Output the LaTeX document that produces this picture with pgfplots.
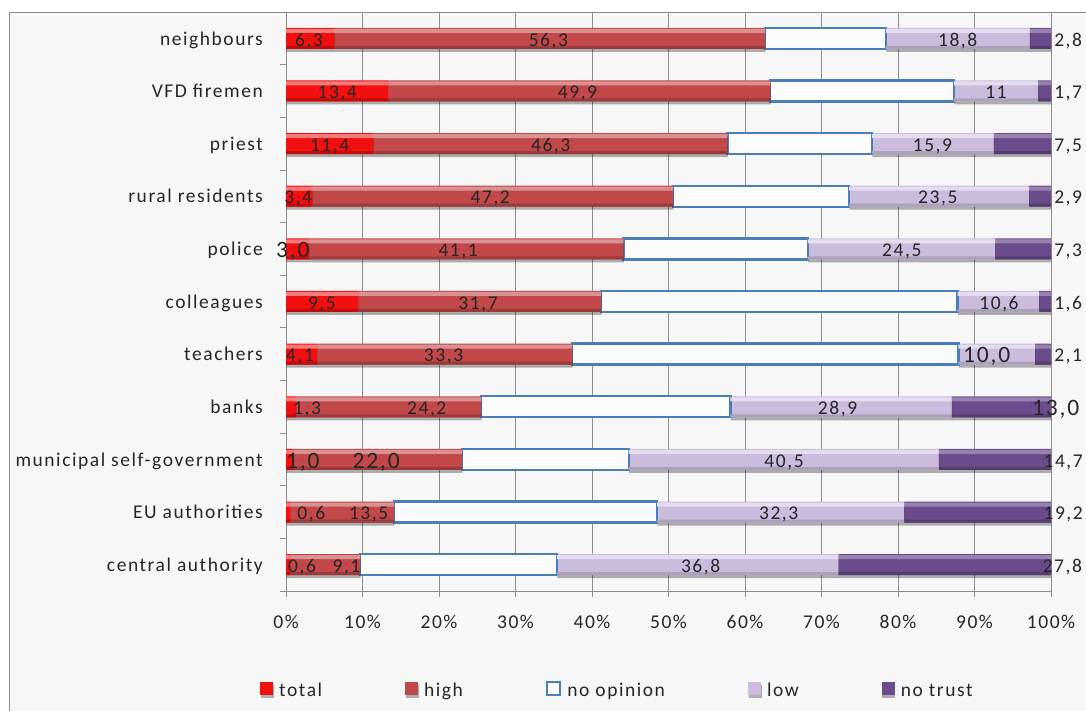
\documentclass[border=0pt]{standalone}
\usepackage{pgfplots}
\pgfplotsset{compat=1.18}
\usepackage{pgfplotstable}
\usepackage{fontspec}
\setmainfont{Carlito}[LetterSpace=8]
\usetikzlibrary{shadows}

\definecolor{cTotal}{HTML}{F20F0F}
\definecolor{cHigh}{HTML}{C24849}
\definecolor{cLow}{HTML}{CBBCDD}
\definecolor{cNoTrust}{HTML}{6A4C8C}
\definecolor{cBlue}{HTML}{4A7EBB}
\definecolor{bg}{HTML}{F7F7F7}
\definecolor{gridgray}{HTML}{8F8F8F}
\definecolor{framegray}{HTML}{8C8C8C}
\definecolor{txt}{HTML}{262626}

\newcommand\lbl{\fontsize{19.5bp}{21bp}\selectfont}
\newcommand\lblbig{\fontsize{23.5bp}{25bp}\selectfont}

% shares of respondents (%), y = category index (0 = bottom)
\pgfplotstableread{
y  total high noop low  notrust
10 6.3   56.3 15.8 18.8 2.8
9  13.4  49.9 24.0 11.0 1.7
8  11.4  46.3 18.9 15.9 7.5
7  3.4   47.2 23.0 23.5 2.9
6  3.0   41.1 24.1 24.5 7.3
5  9.5   31.7 46.6 10.6 1.6
4  4.1   33.3 50.5 10.0 2.1
3  1.3   24.2 32.6 28.9 13.0
2  1.0   22.0 21.8 40.5 14.7
1  0.6   13.5 34.4 32.3 19.2
0  0.6   9.1  25.7 36.8 27.8
}\trust

% value labels placed inside the segments
\pgfplotstableread{
x    y  t
3.0  10 6,3
34.3 10 56,3
87.8 10 18,8
6.7  9  13,4
38.1 9  49,9
92.8 9  11
5.7  8  11,4
34.6 8  46,3
84.5 8  15,9
1.6  7  3,4
26.7 7  47,2
85.2 7  23,5
22.5 6  41,1
80.5 6  24,5
4.7  5  9,5
25.1 5  31,7
93.2 5  10,6
1.8  4  4,1
20.6 4  33,3
2.75 3  1,3
18.4 3  24,2
72.1 3  28,9
65.1 2  40,5
3.3  1  0,6
10.8 1  13,5
64.4 1  32,3
2.1  0  0,6
7.9  0  9,1
54.2 0  36,8
}\labmid

\pgfplotstableread{
x    y  t
0.9  6  3,0
91.6 4  10,0
2.2  2  1,0
11.8 2  22,0
}\labbig

% "no trust" labels beside the bar ends
\pgfplotstableread{
x     y  t
100.4 10 2,8
100.4 9  1,7
100.4 8  7,5
100.4 7  2,9
100.4 6  7,3
100.4 5  1,6
100.4 4  2,1
99.0  2  14,7
99.0  1  19,2
98.9  0  27,8
}\labright

\pgfplotstableread{
x    y  t
97.5 3  13,0
}\labrightbig

\pgfplotsset{
  seg/.style={draw=none, fill=#1,
    drop shadow={shadow xshift=0.5bp, shadow yshift=-3bp, opacity=0.3, fill=black}},
  sqlegend/.style={legend image code/.code={\path[##1] (0bp,-4bp) rectangle (13bp,9bp);}},
  labels/.style={only marks, mark=*, mark size=0.01pt,
    mark options={draw=none, fill=none},
    nodes near coords, point meta=explicit symbolic},
  frame/.style={at={(286bp,120bp)}, anchor=south west,
    width=765bp, height=579bp, scale only axis,
    xmin=0, xmax=100, ymin=-0.5, ymax=10.5},
}

\begin{document}
\begin{tikzpicture}
\useasboundingbox (0,0) rectangle (1086bp,711bp);
\fill[white] (0,0) rectangle (1086bp,711bp);
\fill[bg] (9bp,0) rectangle (1086bp,699bp);
\draw[framegray, line width=0.8bp] (9bp,0) -- (9bp,699bp) -- (1086bp,699bp);

\begin{axis}[
  frame,
  xbar stacked, bar width=21bp,
  axis lines*=left,
  axis line style={-, draw=framegray, line width=0.8bp},
  xtick={0,10,...,100},
  xticklabels={0\%,10\%,20\%,30\%,40\%,50\%,60\%,70\%,80\%,90\%,100\%},
  xmajorgrids,
  grid style={draw=gridgray, line width=0.8bp},
  ytick={-0.5,0.5,...,10.5},
  yticklabels={central authority, EU authorities, municipal self-government,
    banks, teachers, colleagues, police, rural residents, priest,
    VFD firemen, neighbours, {}},
  tick align=outside, major tick length=6bp,
  tick style={draw=framegray, line width=0.8bp},
  yticklabel style={anchor=base east, inner sep=0pt, xshift=-17bp,
    yshift=19.6bp, font=\lbl, text=txt},
  xticklabel style={anchor=base, inner sep=0pt, yshift=-32bp,
    font=\lbl, text=txt},
  legend columns=5,
  legend style={at={(-0.0340,-0.170)}, anchor=west, draw=none, fill=none,
    inner sep=0pt, font=\lbl, text=txt,
    nodes={inner sep=0pt},
    /tikz/every odd column/.append style={column sep=6bp},
    /tikz/every even column/.append style={column sep=83bp}},
]
\addplot[seg=cTotal, sqlegend] table[x=total, y=y] {\trust};
\addplot[seg=cHigh, sqlegend] table[x=high, y=y] {\trust};
\addplot[fill=white!60!bg, draw=cBlue, line width=2.4bp, sqlegend] table[x=noop, y=y] {\trust};
\addplot[seg=cLow, sqlegend] table[x=low, y=y] {\trust};
\addplot[seg=cNoTrust, sqlegend] table[x=notrust, y=y] {\trust};
\legend{total, high, no opinion, low, no trust}
\end{axis}

% bevel: light strip along the top edge of each filled segment
\begin{axis}[frame, hide axis, xbar stacked, bar width=4bp, bar shift=7.5bp]
\addplot[draw=none, fill=cTotal!55!white] table[x=total, y=y] {\trust};
\addplot[draw=none, fill=cHigh!60!white] table[x=high, y=y] {\trust};
\addplot[draw=none, fill=none] table[x=noop, y=y] {\trust};
\addplot[draw=none, fill=cLow!50!white] table[x=low, y=y] {\trust};
\addplot[draw=none, fill=cNoTrust!70!white] table[x=notrust, y=y] {\trust};
\end{axis}

% bevel: darker strip along the bottom edge
\begin{axis}[frame, hide axis, xbar stacked, bar width=3bp, bar shift=-9bp]
\addplot[draw=none, fill=cTotal!80!black] table[x=total, y=y] {\trust};
\addplot[draw=none, fill=cHigh!80!black] table[x=high, y=y] {\trust};
\addplot[draw=none, fill=none] table[x=noop, y=y] {\trust};
\addplot[draw=none, fill=cLow!85!black] table[x=low, y=y] {\trust};
\addplot[draw=none, fill=cNoTrust!80!black] table[x=notrust, y=y] {\trust};
\end{axis}

\begin{axis}[frame, hide axis, clip=false]
\addplot[labels, nodes near coords style={anchor=base, inner sep=0pt,
    yshift=-7.7bp, font=\lbl, text=txt}] table[x=x, y=y, meta=t] {\labmid};
\addplot[labels, nodes near coords style={anchor=base, inner sep=0pt,
    yshift=-8.8bp, font=\lblbig, text=txt}] table[x=x, y=y, meta=t] {\labbig};
\addplot[labels, nodes near coords style={anchor=base west, inner sep=0pt,
    yshift=-7.7bp, font=\lbl, text=txt}] table[x=x, y=y, meta=t] {\labright};
\addplot[labels, nodes near coords style={anchor=base west, inner sep=0pt,
    yshift=-8.8bp, font=\lblbig, text=txt}] table[x=x, y=y, meta=t] {\labrightbig};
\end{axis}
\end{tikzpicture}
\end{document}
